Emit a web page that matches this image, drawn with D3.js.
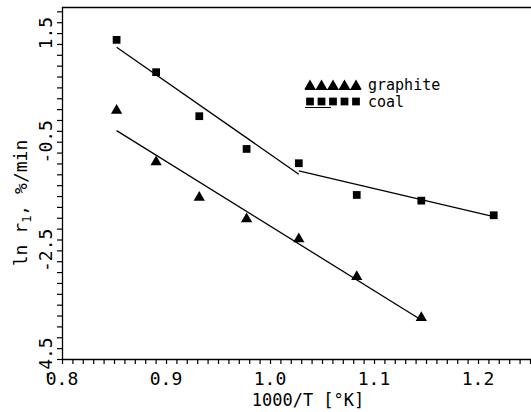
<!DOCTYPE html>
<html>
<head>
<meta charset="utf-8">
<script src="https://cdn.jsdelivr.net/npm/d3@7"></script>
<style>
    body { margin: 0; background: #fff; }
    text { font-family: "DejaVu Sans Mono", monospace; fill: #000; }
</style>
</head>
<body>
<div id="chart"></div>
<script>
// data: 1000/T and ln r1
invT = [0.8525, 0.8905, 0.9320, 0.9775, 1.0277, 1.0834, 1.1455, 1.2151];
coal = [1.375, 0.780, -0.030, -0.633, -0.896, -1.480, -1.585, -1.854];
graphite = [0.073, -0.872, -1.526, -1.922, -2.290, -2.984, -3.739];

// fitted lines, as endpoints [x, y]
coalFit1 = [[0.8525, 1.240], [1.0277, -1.099]];
coalFit2 = [[1.0277, -1.038], [1.2151, -1.879]];
graphiteFit = [[0.8525, -0.296], [1.1455, -3.782]];

xTickLabels = [0.8, 0.9, 1.0, 1.1, 1.2];
yTickLabels = [1.5, -0.5, -2.5, -4.5];

width = 531;
height = 412;
left = 62;
right = 530;
top_ = 7;
bottom = 359;

/* Scale */
xScale = d3.scaleLinear().domain([0.8, 1.25]).range([left, right]);
yScale = d3.scaleLinear().domain([-4.5, 1.98]).range([bottom, top_]);

svg = d3.select("#chart").append("svg")
    .attr("width", width)
    .attr("height", height);

/* Axes: minor ticks everywhere, labels drawn by hand (rotated on y) */
xAxis = d3.axisBottom(xScale)
    .tickValues(d3.range(0, 46).map(i => 0.8 + i * 0.01))
    .tickSize(5)
    .tickFormat("");
yAxis = d3.axisLeft(yScale)
    .tickValues(d3.range(0, 33).map(i => -4.5 + i * 0.2))
    .tickSize(5)
    .tickFormat("");

svg.append("g")
    .attr("transform", `translate(0, ${bottom})`)
    .call(xAxis)
    .call(g => g.select(".domain").attr("d", `M${left},0.5H${width}`));

svg.append("g")
    .attr("transform", `translate(${left}, 0)`)
    .call(yAxis)
    .call(g => g.select(".domain").attr("d", `M0.5,${top_}V${bottom}`));

svg.selectAll(".tick line").attr("stroke", "#000").attr("stroke-width", 1.2);
svg.selectAll(".domain").attr("stroke", "#000").attr("stroke-width", 1.3);

// top frame line
svg.append("line")
    .attr("x1", left).attr("x2", width)
    .attr("y1", top_ + 0.5).attr("y2", top_ + 0.5)
    .attr("stroke", "#000")
    .attr("stroke-width", 1.3);

svg.selectAll(".xlab")
    .data(xTickLabels).enter()
    .append("text")
    .attr("x", d => xScale(d))
    .attr("y", 385)
    .attr("text-anchor", "middle")
    .style("font-size", "18px")
    .text(d => d.toFixed(1));

svg.selectAll(".ylab")
    .data(yTickLabels).enter()
    .append("text")
    .attr("transform", d => `translate(52, ${yScale(d)}) rotate(-90)`)
    .attr("text-anchor", "middle")
    .style("font-size", "18px")
    .text(d => d.toFixed(1));

svg.append("text")
    .attr("x", 308)
    .attr("y", 406)
    .attr("text-anchor", "middle")
    .style("font-size", "17px")
    .text("1000/T [°K]");

yTitle = svg.append("text")
    .attr("transform", "translate(27, 203) rotate(-90)")
    .attr("text-anchor", "middle")
    .style("font-size", "18px");
yTitle.append("tspan").text("ln r");
yTitle.append("tspan").attr("dy", 4).style("font-size", "12px").text("1");
yTitle.append("tspan").attr("dy", -4).text(", %/min");

/* Lines */
line = d3.line()
    .x(d => xScale(d[0]))
    .y(d => yScale(d[1]));

[coalFit1, coalFit2, graphiteFit].forEach(function (f) {
    svg.append("path")
        .attr("d", line(f))
        .attr("fill", "none")
        .attr("stroke", "#000")
        .attr("stroke-width", 1.3);
});

/* Markers */
tri = d3.symbol().type(d3.symbolTriangle).size(55);
sq = d3.symbol().type(d3.symbolSquare).size(60);

svg.selectAll(".coal")
    .data(coal).enter()
    .append("path")
    .attr("d", sq)
    .attr("transform", (d, i) => `translate(${xScale(invT[i])}, ${yScale(d)})`)
    .attr("fill", "#000");

svg.selectAll(".graphite")
    .data(graphite).enter()
    .append("path")
    .attr("d", tri)
    .attr("transform", (d, i) => `translate(${xScale(invT[i])}, ${yScale(d)})`)
    .attr("fill", "#000");

/* Legend */
legendX = [310, 321.5, 333, 344.5, 356];

svg.selectAll(".legTri")
    .data(legendX).enter()
    .append("path")
    .attr("d", tri)
    .attr("transform", d => `translate(${d}, 86)`)
    .attr("fill", "#000");
svg.append("line")
    .attr("x1", 305).attr("x2", 361)
    .attr("y1", 89.5).attr("y2", 89.5)
    .attr("stroke", "#000");

svg.selectAll(".legSq")
    .data(legendX).enter()
    .append("path")
    .attr("d", sq)
    .attr("transform", d => `translate(${d}, 101.5)`)
    .attr("fill", "#000");
svg.append("line")
    .attr("x1", 305).attr("x2", 331)
    .attr("y1", 107.5).attr("y2", 107.5)
    .attr("stroke", "#000");

svg.append("text")
    .attr("x", 368)
    .attr("y", 90)
    .style("font-size", "15px")
    .text("graphite");
svg.append("text")
    .attr("x", 368)
    .attr("y", 107)
    .style("font-size", "15px")
    .text("coal");
</script>
</body>
</html>
